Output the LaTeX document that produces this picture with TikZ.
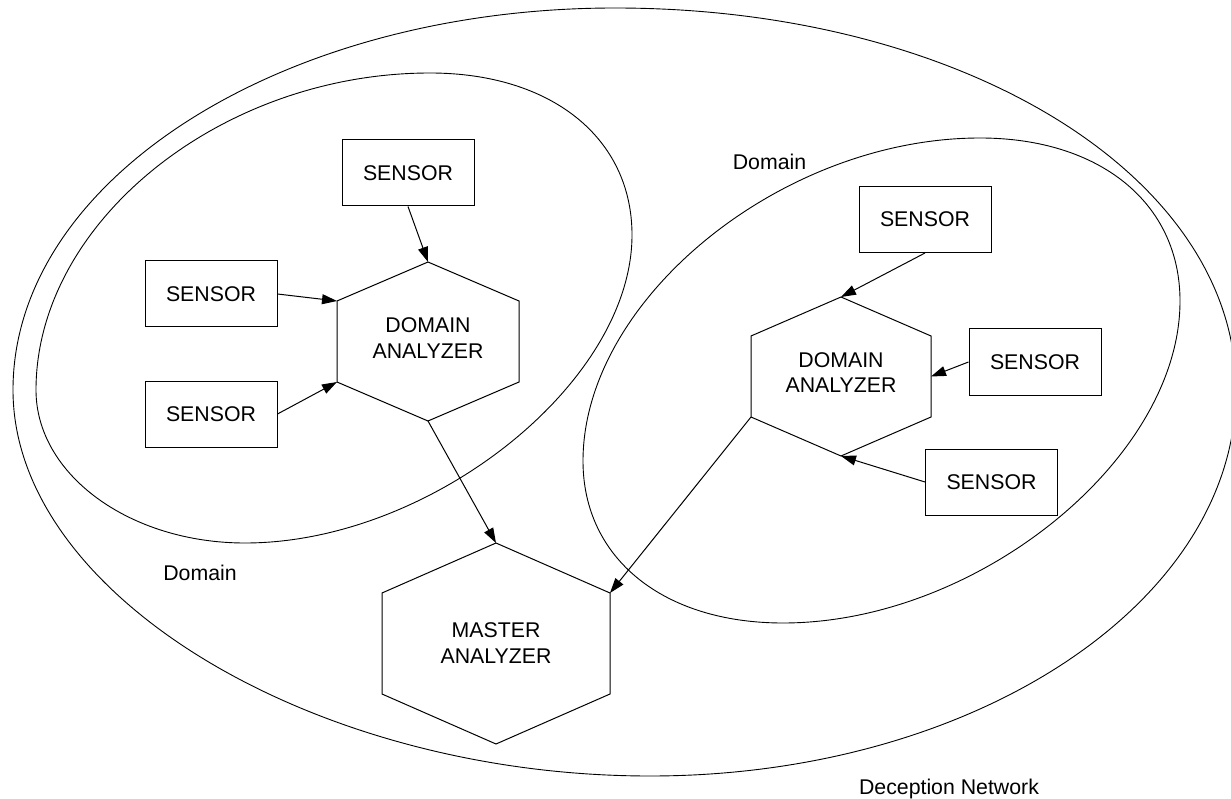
\documentclass[tikz,border=0pt]{standalone}
\usepackage{fontspec}
\setmainfont{Liberation Sans}
\usetikzlibrary{arrows.meta}

% Hexagonal analyzer: name, centre x, centre y, half width, half height,
% half of the vertical side, text, vertical shift of the text
\newcommand{\hexanalyzer}[8]{%
  \begin{scope}[shift={(#2,#3)}]
    \coordinate (#1-n)  at (0,-#5);
    \coordinate (#1-nw) at (-#4,-#6);
    \coordinate (#1-sw) at (-#4,#6);
    \coordinate (#1-s)  at (0,#5);
    \coordinate (#1-se) at (#4,#6);
    \coordinate (#1-ne) at (#4,-#6);
    \coordinate (#1-e)  at (#4,0);
    \coordinate (#1-w)  at (-#4,0);
    \node[hexlabel] (#1) at (0,#8) {#7};
  \end{scope}
  \draw[hexedge] (#1-n) -- (#1-nw) -- (#1-sw) -- (#1-s) -- (#1-se) -- (#1-ne) -- cycle;
}

\begin{document}
\begin{tikzpicture}[x=1pt,y=-1pt,
  every node/.style={font=\fontsize{21.3}{25.5}\selectfont},
  sensor/.style={draw, line width=1pt, rectangle, minimum width=132pt,
                 minimum height=66pt, inner sep=0pt},
  hexlabel/.style={align=center, inner sep=0pt},
  hexedge/.style={draw, line width=1pt, line join=miter},
  region/.style={draw, line width=0.9pt},
  link/.style={draw, line width=1pt, -{Triangle[length=15pt,width=10pt]}},
  areaname/.style={inner sep=0pt, anchor=base}
]
\fill[white] (0,0) rectangle (1231,799);
\useasboundingbox (0,0) rectangle (1231,799);

% Deception network boundary (left, top, right, bottom extremes)
\draw[region] (13,390)
  .. controls (13,179.1)   and (282.7,8)   .. (615,8)
  .. controls (962.8,8)    and (1236,176)  .. (1236,390)
  .. controls (1236,603.1) and (973.5,776) .. (650,776)
  .. controls (312.4,776)  and (13,594.6)  .. (13,390) -- cycle;

% Left domain boundary
\draw[region] (36,390)
  .. controls (36,222)    and (221.2,73) .. (430,73)
  .. controls (551.2,73)  and (632,137.8) .. (632,235)
  .. controls (632,382.8) and (430.8,543) .. (245,543)
  .. controls (129.6,543) and (36,474.5) .. (36,390) -- cycle;

% Right domain boundary
\draw[region] (583,461)
  .. controls (583,299.5)  and (781.5,138) .. (980,138)
  .. controls (1100,138)   and (1180,203.2) .. (1180,301)
  .. controls (1180,458.8) and (977.5,623) .. (783,623)
  .. controls (663,623)    and (583,558.2) .. (583,461) -- cycle;

% Analyzers
\hexanalyzer{lda}{428}{341.5}{91}{79.5}{40.5}{DOMAIN\\ANALYZER}{-3.5}
\hexanalyzer{rda}{841}{376.5}{90}{79.5}{40.5}{DOMAIN\\ANALYZER}{-4}
\hexanalyzer{ma}{496}{643.5}{114}{100.5}{50.5}{MASTER\\ANALYZER}{-0.5}

% Sensors
\node[sensor] (s1) at (408,173)   {SENSOR};
\node[sensor] (s2) at (211,294)   {SENSOR};
\node[sensor] (s3) at (211,414)   {SENSOR};
\node[sensor] (s4) at (925,219.5) {SENSOR};
\node[sensor] (s5) at (1035,362)  {SENSOR};
\node[sensor] (s6) at (991.5,482) {SENSOR};

% Area names
\node[areaname] (dom1) at (200,580)   {Domain};
\node[areaname] (dom2) at (769.5,170) {Domain};
\node[areaname] (net)  at (949,794)   {Deception Network};

% Reports flowing to the analyzers
\draw[link] (s1.south) -- (lda-n);
\draw[link] (s2.east)  -- (lda-nw);
\draw[link] (s3.east)  -- (lda-sw);
\draw[link] (s4.south) -- (rda-n);
\draw[link] (s5.west)  -- (rda-e);
\draw[link] (s6.west)  -- (rda-s);
\draw[link] (lda-s)    -- (ma-n);
\draw[link] (rda-sw)   -- (ma-ne);
\end{tikzpicture}
\end{document}
